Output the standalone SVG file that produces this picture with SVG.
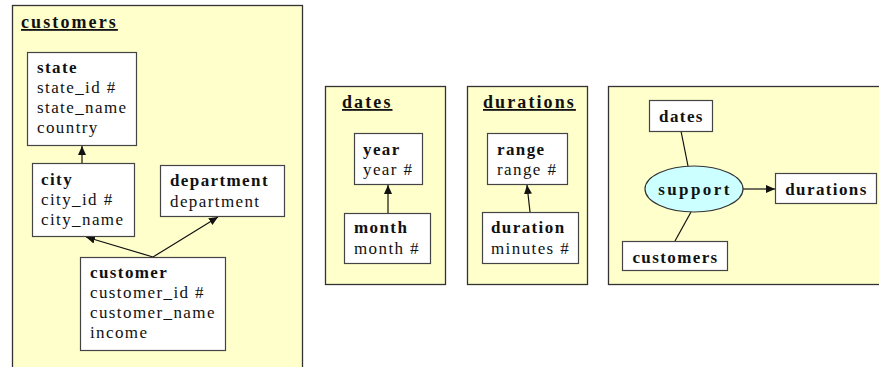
<svg xmlns="http://www.w3.org/2000/svg" width="879" height="367" viewBox="0 0 879 367">
<defs>
<style>
.panel{fill:#ffffcc;stroke:#333;stroke-width:1.3}
.box{fill:#fff;stroke:#444;stroke-width:1.2}
.t{font-family:"Liberation Serif","Times New Roman",serif;font-size:17px;fill:#111;letter-spacing:1.4px}
.b{font-weight:bold}
.title{font-family:"Liberation Serif","Times New Roman",serif;font-size:18px;font-weight:bold;fill:#111;letter-spacing:2.1px;text-decoration:underline}
.c{text-anchor:middle}
.ln{stroke:#111;stroke-width:1.2;fill:none}
.ar{marker-end:url(#arr)}
</style>
<marker id="arr" markerWidth="10" markerHeight="10" refX="9" refY="5" orient="auto" markerUnits="userSpaceOnUse">
<path d="M0,1 L9,5 L0,9 Z" fill="#111"/>
</marker>
</defs>

<g id="panel-customers">
<rect class="panel" x="12.5" y="5.5" width="290" height="375"/>
<text class="title" x="21" y="28">customers</text>
</g>
<g id="panel-dates">
<rect class="panel" x="325.5" y="86.5" width="120" height="198"/>
<text class="title" x="342" y="108">dates</text>
</g>
<g id="panel-durations">
<rect class="panel" x="467.5" y="86.5" width="120" height="198"/>
<text class="title" x="483" y="108">durations</text>
</g>
<g id="panel-support">
<rect class="panel" x="608.5" y="86.5" width="285" height="198"/>
</g>

<g id="connectors">
<line class="ln ar" x1="82" y1="163" x2="82" y2="146"/>
<line class="ln ar" x1="153" y1="257" x2="86" y2="237"/>
<line class="ln ar" x1="153" y1="257" x2="218" y2="217"/>
<line class="ln ar" x1="388" y1="213" x2="388" y2="185"/>
<line class="ln ar" x1="530" y1="212" x2="527" y2="185"/>
<line class="ln" x1="681" y1="131" x2="688" y2="166"/>
<line class="ln" x1="691" y1="212" x2="675" y2="241"/>
<line class="ln ar" x1="743" y1="189" x2="775" y2="189"/>
</g>

<g id="node-state">
<rect class="box" x="27.5" y="52.5" width="109" height="93"/>
<text class="t b" x="37" y="73">state</text>
<text class="t" x="37" y="93">state_id #</text>
<text class="t" x="37" y="113">state_name</text>
<text class="t" x="37" y="133">country</text>
</g>
<g id="node-city">
<rect class="box" x="32.5" y="163.5" width="102" height="73"/>
<text class="t b" x="41" y="185">city</text>
<text class="t" x="41" y="205">city_id #</text>
<text class="t" x="41" y="225">city_name</text>
</g>
<g id="node-department">
<rect class="box" x="160.5" y="165.5" width="124" height="51"/>
<text class="t b" x="170" y="186">department</text>
<text class="t" x="170" y="207">department</text>
</g>
<g id="node-customer">
<rect class="box" x="80.5" y="257.5" width="145" height="93"/>
<text class="t b" x="90" y="278">customer</text>
<text class="t" x="90" y="298">customer_id #</text>
<text class="t" x="90" y="318">customer_name</text>
<text class="t" x="90" y="338">income</text>
</g>

<g id="node-year">
<rect class="box" x="354.5" y="133.5" width="68" height="51"/>
<text class="t b" x="363" y="155">year</text>
<text class="t" x="363" y="175">year #</text>
</g>
<g id="node-month">
<rect class="box" x="344.5" y="213.5" width="86" height="50"/>
<text class="t b" x="354" y="233">month</text>
<text class="t" x="354" y="254">month #</text>
</g>

<g id="node-range">
<rect class="box" x="487.5" y="133.5" width="80" height="51"/>
<text class="t b" x="497" y="155">range</text>
<text class="t" x="497" y="175">range #</text>
</g>
<g id="node-duration">
<rect class="box" x="482.5" y="212.5" width="96" height="51"/>
<text class="t b" x="491" y="233">duration</text>
<text class="t" x="491" y="254">minutes #</text>
</g>

<g id="node-s-dates">
<rect class="box" x="649.5" y="100.5" width="63" height="31"/>
<text class="t b c" x="681.5" y="122">dates</text>
</g>
<g id="node-support">
<ellipse cx="694" cy="189" rx="49" ry="23" fill="#ccffff" stroke="#333" stroke-width="1.2"/>
<text class="t b c" x="695" y="195" style="letter-spacing:2.4px">support</text>
</g>
<g id="node-s-durations">
<rect class="box" x="775.5" y="173.5" width="101" height="30"/>
<text class="t b c" x="826.5" y="195">durations</text>
</g>
<g id="node-s-customers">
<rect class="box" x="622.5" y="241.5" width="105" height="29"/>
<text class="t b c" x="675.5" y="263">customers</text>
</g>
</svg>
